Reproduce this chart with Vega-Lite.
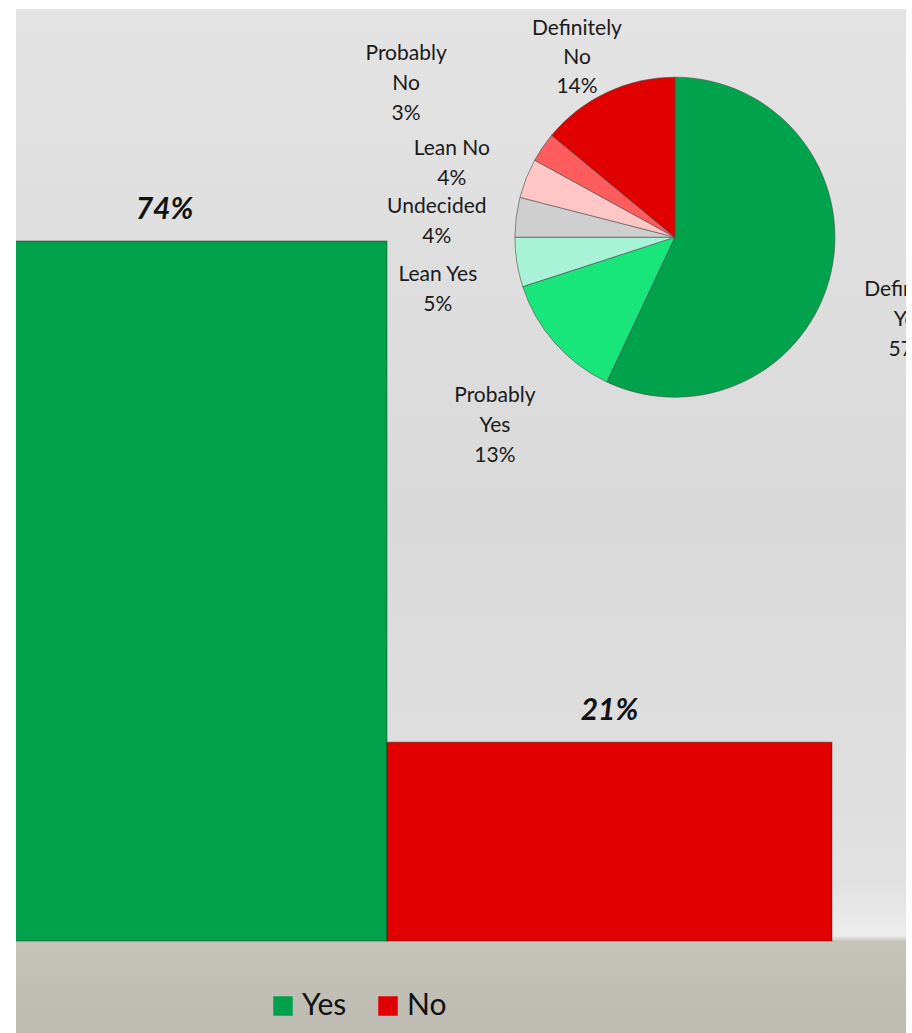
{
  "$schema": "https://vega.github.io/schema/vega-lite/v6.json",
  "width": 912,
  "height": 1033,
  "autosize": {"type": "fit", "contains": "padding"},
  "padding": {"left": 16, "top": 9, "right": 6, "bottom": 0},
  "background": "#ffffff",
  "config": {
    "font": "Lato",
    "view": {
      "stroke": null,
      "fill": {
        "gradient": "linear", "x1": 0, "y1": 0, "x2": 0, "y2": 1,
        "stops": [
          {"offset": 0, "color": "#e3e3e3"},
          {"offset": 0.5, "color": "#d9d9d9"},
          {"offset": 0.85, "color": "#e1e1e1"},
          {"offset": 0.905, "color": "#ececec"},
          {"offset": 0.9106, "color": "#c6c3bb"},
          {"offset": 1, "color": "#bdbab2"}
        ]
      }
    }
  },
  "datasets": {
    "bars": [
      {"answer": "Yes", "pct": 74, "label": "74%"},
      {"answer": "No", "pct": 21, "label": "21%"}
    ],
    "pie": [
      {"slice": "Definitely Yes", "pct": 57, "ord": 1, "label": "Definitely\nYes\n57%"},
      {"slice": "Probably Yes", "pct": 13, "ord": 2, "label": "Probably\nYes\n13%"},
      {"slice": "Lean Yes", "pct": 5, "ord": 3, "label": "Lean Yes\n5%"},
      {"slice": "Undecided", "pct": 4, "ord": 4, "label": "Undecided\n4%"},
      {"slice": "Lean No", "pct": 4, "ord": 5, "label": "Lean No\n4%"},
      {"slice": "Probably No", "pct": 3, "ord": 6, "label": "Probably\nNo\n3%"},
      {"slice": "Definitely No", "pct": 14, "ord": 7, "label": "Definitely\nNo\n14%"}
    ]
  },
  "layer": [
    {
      "data": {"name": "bars"},
      "mark": {"type": "bar", "clip": true, "stroke": "#000000", "strokeOpacity": 0.25, "strokeWidth": 1.5},
      "encoding": {
        "x": {"field": "answer", "type": "nominal", "scale": {"domain": ["Yes", "No"], "range": [-74, 816], "paddingInner": 0, "paddingOuter": 0}, "axis": null},
        "y": {"field": "pct", "type": "quantitative", "scale": {"domain": [0, 100], "range": [932, -14]}, "axis": null},
        "color": {
          "field": "answer", "type": "nominal",
          "scale": {"domain": ["Yes", "No"], "range": ["#00a14b", "#e10000"]},
          "legend": {
            "title": null, "orient": "none", "legendX": 252, "legendY": 982,
            "direction": "horizontal", "symbolType": "square", "symbolSize": 380,
            "symbolStrokeWidth": 0, "labelFontSize": 30, "labelFont": "Lato",
            "labelColor": "#111111", "labelOffset": 4, "columnPadding": 26
          }
        }
      }
    },
    {
      "data": {"name": "bars"},
      "mark": {"type": "text", "fontSize": 30, "fontWeight": "bold", "fontStyle": "italic", "baseline": "alphabetic", "dy": -22, "color": "#111111"},
      "encoding": {
        "x": {"field": "answer", "type": "nominal"},
        "y": {"field": "pct", "type": "quantitative"},
        "text": {"field": "label"}
      }
    },
    {
      "data": {"name": "pie"},
      "mark": {"type": "arc", "outerRadius": 160, "stroke": "#4a4a4a", "strokeWidth": 1, "strokeOpacity": 0.6},
      "encoding": {
        "x": {"datum": "No", "bandPosition": 0.647},
        "y": {"datum": 74.4},
        "theta": {"field": "pct", "type": "quantitative", "stack": true},
        "order": {"field": "ord"},
        "color": {
          "field": "slice", "type": "nominal",
          "scale": {
            "domain": ["Definitely Yes", "Probably Yes", "Lean Yes", "Undecided", "Lean No", "Probably No", "Definitely No"],
            "range": ["#00a24b", "#18e57a", "#a8f3d8", "#cfcfcf", "#ffc6c6", "#ff5d5d", "#e00000"]
          },
          "legend": null
        }
      }
    },
    {
      "data": {"name": "pie"},
      "mark": {"type": "text", "radius": 240, "fontSize": 21, "lineBreak": "\n", "lineHeight": 30, "color": "#1a1a1a", "clip": true},
      "encoding": {
        "x": {"datum": "No", "bandPosition": 0.647},
        "y": {"datum": 74.4},
        "theta": {"field": "pct", "type": "quantitative", "stack": true},
        "order": {"field": "ord"},
        "text": {"condition": {"test": {"field": "ord", "oneOf": [1, 2, 3, 4, 5]}, "field": "label"}, "value": ""}
      }
    },
    {
      "data": {"name": "pie"},
      "mark": {"type": "text", "radius": 325, "fontSize": 21, "lineBreak": "\n", "lineHeight": 30, "color": "#1a1a1a", "clip": true},
      "encoding": {
        "x": {"datum": "No", "bandPosition": 0.647},
        "y": {"datum": 74.4},
        "theta": {"field": "pct", "type": "quantitative", "stack": true},
        "order": {"field": "ord"},
        "text": {"condition": {"test": {"field": "ord", "oneOf": [6]}, "field": "label"}, "value": ""}
      }
    },
    {
      "data": {"name": "pie"},
      "mark": {"type": "text", "radius": 230, "fontSize": 21, "lineBreak": "\n", "lineHeight": 29, "color": "#1a1a1a", "clip": true},
      "encoding": {
        "x": {"datum": "No", "bandPosition": 0.647},
        "y": {"datum": 74.4},
        "theta": {"field": "pct", "type": "quantitative", "stack": true},
        "order": {"field": "ord"},
        "text": {"condition": {"test": {"field": "ord", "oneOf": [7]}, "field": "label"}, "value": ""}
      }
    }
  ],
  "resolve": {"scale": {"color": "independent"}}
}
